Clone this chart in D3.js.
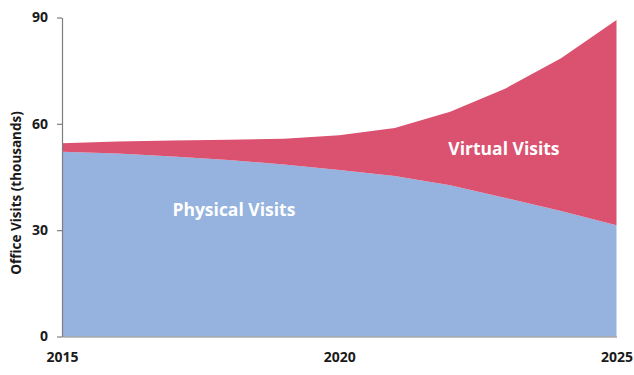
<!DOCTYPE html>
<html>
<head>
<meta charset="utf-8">
<script src="https://cdn.jsdelivr.net/npm/d3@7"></script>
<style>
	body { margin: 0; background: #fff; }
	svg text { font-family: "Open Sans", sans-serif; font-weight: bold; }
</style>
</head>
<body>
<svg id="chart" width="634" height="375"></svg>
<script>

// values (thousands of visits)
var years = [2015, 2016, 2017, 2018, 2019, 2020, 2021, 2022, 2023, 2024, 2025];
var physicalVisits = [52.1, 51.6, 50.8, 49.8, 48.5, 47.0, 45.3, 42.7, 39.1, 35.4, 31.4];
var virtualVisits = [2.4, 3.4, 4.5, 5.7, 7.3, 9.8, 13.5, 20.7, 30.9, 43.1, 57.9];

var yTicks = [0, 30, 60, 90];
var xTicks = [2015, 2020, 2025];

var seriesKeys = ['physical', 'virtual'];
var seriesColors = {physical: '#95b3de', virtual: '#db5271'};
var seriesLabels = {physical: 'Physical Visits', virtual: 'Virtual Visits'};


var margin = {top: 17.5, right: 17.5, bottom: 38.5, left: 62};
var svg = d3.select('#chart');
var width = +svg.attr('width') - margin.left - margin.right;
var height = +svg.attr('height') - margin.top - margin.bottom;

var g = svg.append('g')
	.attr('transform', 'translate(' + margin.left + ',' + margin.top + ')');

var x = d3.scaleLinear().domain([2015, 2025]).range([0, width]);
var y = d3.scaleLinear().domain([0, 90]).range([height, 0]);

// build the rows for the stack
var rows = years.map(function(yr, i) {
	return {year: yr, physical: physicalVisits[i], virtual: virtualVisits[i]};
});

var stacked = d3.stack().keys(seriesKeys)(rows);

var area = d3.area()
	.x(function(d) { return x(d.data.year); })
	.y0(function(d) { return y(d[0]); })
	.y1(function(d) { return y(d[1]); });

g.selectAll('path.layer')
	.data(stacked)
	.enter().append('path')
	.attr('class', 'layer')
	.attr('fill', function(d) { return seriesColors[d.key]; })
	.attr('d', area);


// axes
var yAxis = d3.axisLeft(y).tickValues(yTicks).tickSize(5).tickSizeOuter(0).tickPadding(9);
var xAxis = d3.axisBottom(x).tickValues(xTicks).tickSize(0).tickPadding(16).tickFormat(d3.format('d'));

var yG = g.append('g').call(yAxis);
var xG = g.append('g').attr('transform', 'translate(0,' + height + ')').call(xAxis);

[yG, xG].forEach(function(ax) {
	ax.select('.domain').attr('stroke', '#7f7f7f').attr('stroke-width', 1.2);
	ax.selectAll('.tick line').attr('stroke', '#7f7f7f').attr('stroke-width', 1.2);
	ax.selectAll('.tick text')
		.attr('fill', '#1a1a1a')
		.style('font-size', '14px')
		.style('font-family', '"Open Sans", sans-serif')
		.style('font-weight', 'bold');
});

// series labels, placed inside the areas
var labelSpots = [
	{key: 'physical', year: 2018.1, value: 34},
	{key: 'virtual', year: 2022.97, value: 51.2}
];

g.selectAll('text.series-label')
	.data(labelSpots)
	.enter().append('text')
	.attr('class', 'series-label')
	.attr('x', function(d) { return x(d.year); })
	.attr('y', function(d) { return y(d.value); })
	.attr('text-anchor', 'middle')
	.attr('fill', '#fff')
	.style('font-size', '17.5px')
	.text(function(d) { return seriesLabels[d.key]; });

// y title
svg.append('text')
	.attr('transform', 'translate(21,193) rotate(-90)')
	.attr('text-anchor', 'middle')
	.attr('fill', '#1a1a1a')
	.style('font-size', '13.5px')
	.text('Office Visits (thousands)');

</script>
</body>
</html>
